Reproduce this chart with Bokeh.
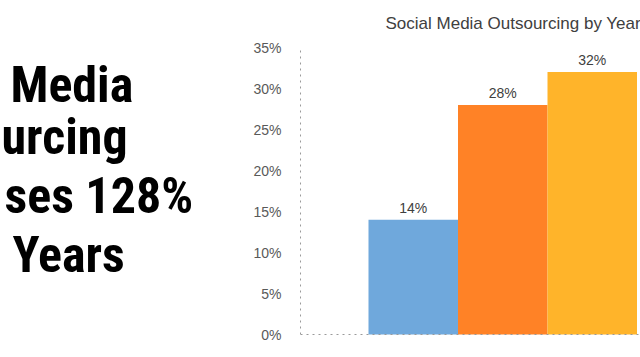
from bokeh.plotting import figure
from bokeh.layouts import row
from bokeh.models import Range1d, FixedTicker, PrintfTickFormatter, Span
from bokeh.core.properties import value
from bokeh.embed import file_html
from bokeh.resources import INLINE

# ---- data ----
positions = [1, 2, 3]
shares = [14, 28, 32]
share_labels = ["14%", "28%", "32%"]
bar_colors = ["#6FA8DC", "#FF8226", "#FFB42A"]
y_ticks = [0, 5, 10, 15, 20, 25, 30, 35]
chart_title = "Social Media Outsourcing by Year"
# visible parts of the headline (the original is cropped at the left edge)
headline_parts = ["Media", "urcing", "ses 128%", "Years"]

# ---- left headline panel (pixel-like coordinates) ----
left = figure(width=240, height=357, output_backend="svg", toolbar_location=None,
              x_range=Range1d(0, 240), y_range=Range1d(357, 0),
              min_border=0, x_axis_location=None, y_axis_location=None,
              outline_line_color=None)
left.grid.visible = False
head_x = [10, 1, 4, 12]
head_y = [84, 136, 195, 254]
left.text(x=head_x, y=head_y, text=headline_parts, text_align="left",
          text_baseline="alphabetic", text_font_size="50px", text_font_style="bold",
          text_color="#000000",
          text_font=value("'Noto Sans Condensed', 'Roboto Condensed', 'Roboto'"))

# ---- right chart ----
px_per_unit = 287 / 35.0
y0 = -23 / px_per_unit
y1 = 35 + 47 / px_per_unit
bar_px = 89.5
x0 = 0.5 - 68 / bar_px
x1 = 0.5 + 272 / bar_px

p = figure(width=400, height=357, output_backend="svg", toolbar_location=None,
           x_range=Range1d(x0, x1), y_range=Range1d(y0, y1),
           min_border_left=60, min_border_right=0, min_border_top=0, min_border_bottom=0,
           x_axis_location=None, outline_line_color=None)
p.grid.visible = False

p.vbar(x=positions, top=shares, width=1.0, color=bar_colors, line_color=None)

p.text(x=positions, y=shares, text=share_labels, text_align="center",
       text_baseline="middle", y_offset=-12, text_font_size="14px",
       text_color="#404040", text_font=value("Liberation Sans"))

p.text(x=[x0 + 85 / bar_px], y=[35 + 24 / px_per_unit], text=[chart_title],
       text_align="left", text_baseline="middle", text_font_size="17px",
       text_color="#404040", text_font=value("Liberation Sans"))

yax = p.yaxis[0]
yax.ticker = FixedTicker(ticks=y_ticks)
yax.formatter = PrintfTickFormatter(format="%d%%")
yax.bounds = (0, 35)
yax.axis_line_dash = "dotted"
yax.axis_line_color = "#9a9a9a"
yax.major_tick_line_color = None
yax.minor_tick_line_color = None
yax.major_label_standoff = 13
yax.major_label_text_font_size = "14px"
yax.major_label_text_color = "#595959"
yax.major_label_text_font = "Liberation Sans"

p.add_layout(Span(location=0, dimension="width", line_color="#9a9a9a", line_dash="dotted", line_width=1))

layout = row(left, p, spacing=0)
open("out.html", "w").write(file_html(layout, INLINE))
